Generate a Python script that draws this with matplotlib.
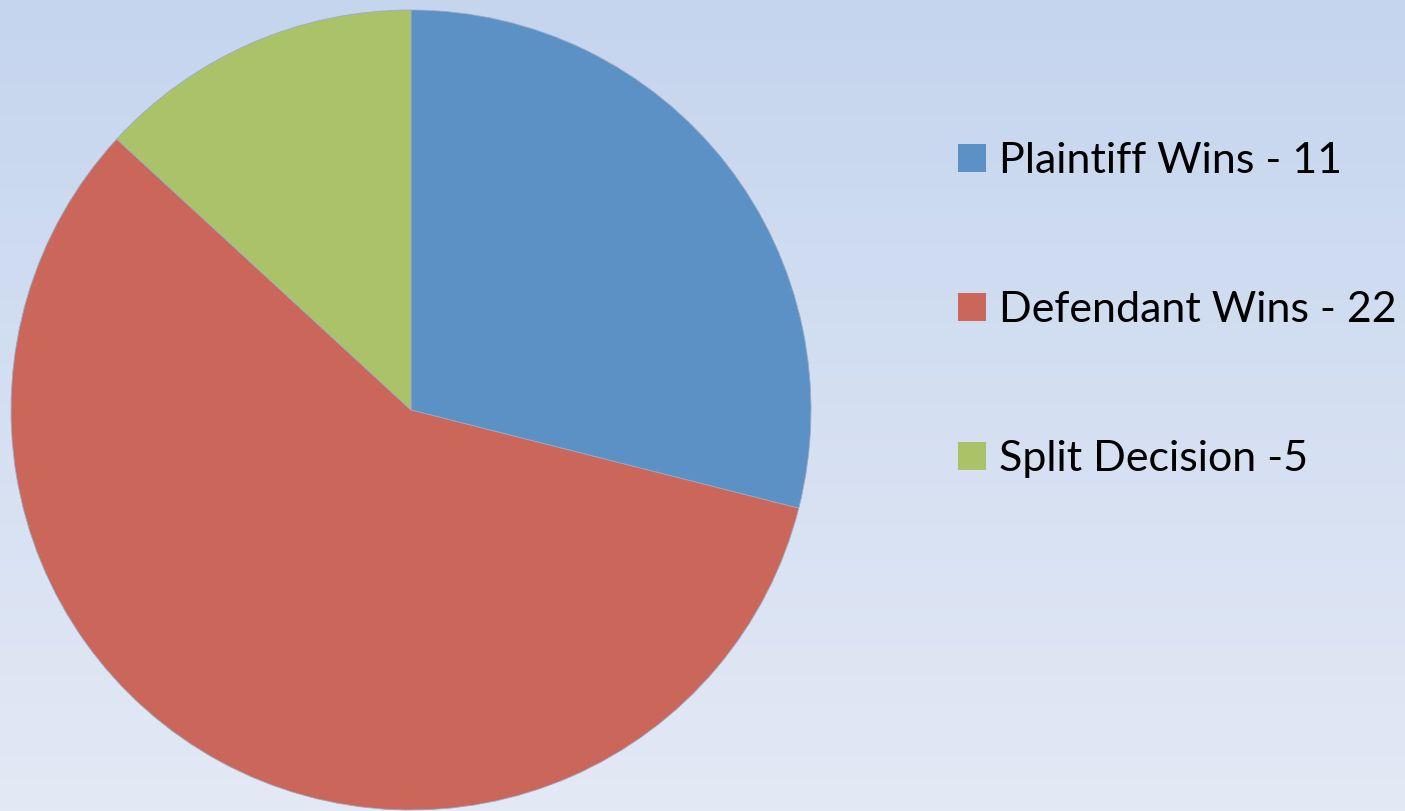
import numpy as np
import matplotlib.pyplot as plt

labels = ['Plaintiff Wins - 11', 'Defendant Wins - 22', 'Split Decision -5']
counts = [11, 22, 5]
colors = ['#5b91c5', '#cb665b', '#abc368']

plt.rcParams['font.family'] = ['Lato', 'DejaVu Sans']

fig = plt.figure(figsize=(14.05, 8.11), dpi=100)

# soft vertical gradient behind everything
bg = fig.add_axes([0, 0, 1, 1], zorder=0)
top = np.array([0xc5, 0xd5, 0xee]) / 255.0
bot = np.array([0xe3, 0xe9, 0xf5]) / 255.0
t = np.linspace(0, 1, 256)[:, None]
grad = top * (1 - t) + bot * t
bg.imshow(grad[:, None, :], aspect='auto', extent=[0, 1, 0, 1])
bg.axis('off')

ax = fig.add_axes([11 / 1405, 1 / 811, 800 / 1405, 800 / 811], zorder=1)
wedges, _ = ax.pie(counts, colors=colors, startangle=90, counterclock=False,
                   radius=1.0, wedgeprops=dict(linewidth=0.6, edgecolor='#9aaac4'))
ax.set_xlim(-1, 1)
ax.set_ylim(-1, 1)
ax.set_aspect('equal')
ax.axis('off')

leg = fig.legend(wedges, labels, loc='upper left',
                 bbox_to_anchor=(958 / 1405, 1 - 142 / 811),
                 frameon=False, fontsize=31, handlelength=0.64, handleheight=0.64,
                 handletextpad=0.32, labelspacing=2.58, borderpad=0, borderaxespad=0)
for h in leg.legend_handles:
    h.set_linewidth(0)

fig.savefig('out.png', dpi=100)
